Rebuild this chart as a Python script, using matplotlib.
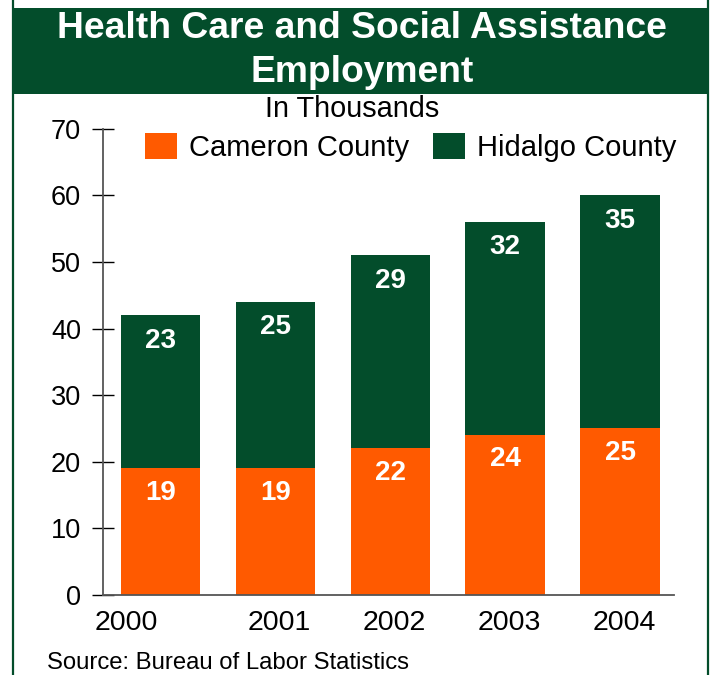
import matplotlib
matplotlib.use("Agg")
import matplotlib.pyplot as plt
from matplotlib.patches import Rectangle
from matplotlib.lines import Line2D
from matplotlib.transforms import offset_copy
import numpy as np

plt.rcParams['font.family'] = ['Liberation Sans', 'DejaVu Sans']

years = ["2000", "2001", "2002", "2003", "2004"]
cameron = [19, 19, 22, 24, 25]
hidalgo = [23, 25, 29, 32, 35]
y_ticks = [0, 10, 20, 30, 40, 50, 60, 70]

GREEN = "#034D2B"
ORANGE = "#FF5A00"

W, H = 712, 675
fig = plt.figure(figsize=(W / 100, H / 100), dpi=100)

def fx(px):
    return px / W

def fy(py):
    return 1 - py / H

# frame and title band
fig.add_artist(Line2D([fx(13), fx(13)], [0, 1], color=GREEN, lw=1.6))
fig.add_artist(Line2D([fx(708), fx(708)], [0, 1], color=GREEN, lw=1.6))
fig.add_artist(Rectangle((fx(13), fy(94)), fx(708) - fx(13), fy(8) - fy(94),
                         facecolor=GREEN, edgecolor="none"))
fig.text(fx(362), fy(38), "Health Care and Social Assistance", color="white",
         fontsize=26.8, fontweight="bold", ha="center", va="baseline")
fig.text(fx(362), fy(82), "Employment", color="white",
         fontsize=26.8, fontweight="bold", ha="center", va="baseline")
fig.text(fx(352), fy(109), "In Thousands", fontsize=20.8, ha="center", va="center")
fig.text(fx(47), fy(663), "Source: Bureau of Labor Statistics", fontsize=17.2,
         ha="left", va="center")

ax = fig.add_axes([fx(103), fy(595), fx(674) - fx(103), fy(128.7) - fy(595)])
x = np.arange(len(years))
bw = 0.69
ax.bar(x, cameron, width=bw, color=ORANGE, label="Cameron County")
ax.bar(x, hidalgo, width=bw, bottom=cameron, color=GREEN, label="Hidalgo County")

for xi, c, h in zip(x, cameron, hidalgo):
    ax.annotate(f"{c}", (xi, c), xytext=(0, -8), textcoords="offset points",
                ha="center", va="top", color="white", fontsize=20, fontweight="bold")
    ax.annotate(f"{h}", (xi, c + h), xytext=(0, -9), textcoords="offset points",
                ha="center", va="top", color="white", fontsize=20, fontweight="bold")

ax.set_xlim(-0.5, 4.47)
ax.set_ylim(0, 70)
ax.set_yticks(y_ticks)
ax.tick_params(axis="y", direction="inout", length=16, width=1, color="black",
               labelsize=19.5, pad=7.8)
ax.set_xticks([])
for i, yr in enumerate(years):
    dx = -34 if i == 0 else 4
    ax.text(i, -0.032, yr, transform=offset_copy(ax.get_xaxis_transform(), fig=fig,
                                                  x=dx * 0.72, units="points"),
            ha="center", va="top", fontsize=20.5)
for s in ("top", "right"):
    ax.spines[s].set_visible(False)
for s in ("left", "bottom"):
    ax.spines[s].set_color("#555555")
    ax.spines[s].set_linewidth(1.3)
ax.patch.set_alpha(0)

ax.legend(loc="upper left", bbox_to_anchor=(fx(145), fy(133)),
          bbox_transform=fig.transFigure, ncol=2, frameon=False, fontsize=21,
          handlelength=1.1, handleheight=1.0, handletextpad=0.42,
          columnspacing=0.8, borderpad=0, borderaxespad=0)

fig.savefig("out.png", dpi=100)
